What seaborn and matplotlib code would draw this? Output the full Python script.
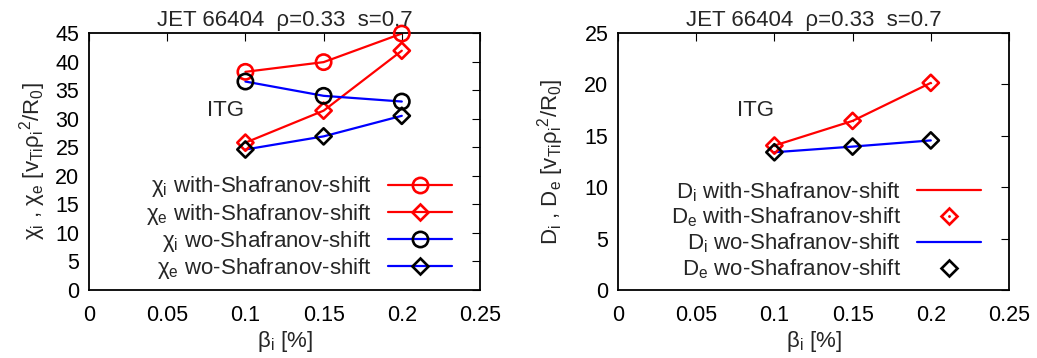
import numpy as np
import pandas as pd
import matplotlib
matplotlib.use("Agg")
import matplotlib.pyplot as plt
import seaborn as sns
from matplotlib.lines import Line2D

sns.set_theme(style="white")
plt.rcParams['font.family'] = ['Liberation Sans', 'DejaVu Sans']
plt.rcParams['mathtext.fontset'] = 'custom'
plt.rcParams['mathtext.rm'] = 'Liberation Sans'
plt.rcParams['mathtext.it'] = 'Liberation Sans:italic'
plt.rcParams['mathtext.bf'] = 'Liberation Sans:bold'

beta = [0.10, 0.15, 0.20]
chi_i_with = [38.2, 39.9, 44.9]
chi_e_with = [25.8, 31.4, 41.9]
chi_i_wo = [36.5, 34.0, 33.0]
chi_e_wo = [24.6, 26.9, 30.5]

D_i_with = [14.05, 16.45, 20.15]
D_e_with = [14.05, 16.45, 20.15]
D_i_wo = [13.4, 13.95, 14.55]
D_e_wo = [13.4, 13.95, 14.55]

xticks = [0, 0.05, 0.1, 0.15, 0.2, 0.25]
title = "JET 66404  ρ=0.33  s=0.7"

FS = 16
TFS = 15.5
W, H = 1037, 358
fig = plt.figure(figsize=(W / 100, H / 100), dpi=100)
axL = fig.add_axes([89 / W, (H - 290) / H, 391 / W, 257 / H])
axR = fig.add_axes([618 / W, (H - 290) / H, 391 / W, 257 / H])

def style(ax, ymax, ystep):
    ax.set_xlim(0, 0.25)
    ax.set_ylim(0, ymax)
    ax.set_xticks(xticks)
    ax.set_xticklabels([f"{t:g}" for t in xticks])
    ax.set_yticks(np.arange(0, ymax + 0.1, ystep))
    ax.tick_params(direction='in', length=6, width=0.8, top=True, right=True,
                   labelsize=TFS, colors='black', pad=7)
    ax.tick_params(axis='x', pad=11)
    for s in ax.spines.values():
        s.set_color('black')
        s.set_linewidth(1.3)
    ax.set_title(title, fontsize=FS, pad=5)
    ax.set_xlabel("β$_\\mathrm{i}$ [%]", fontsize=FS, labelpad=2)

lw = 1.6
ms = 11
mew = 1.9

def legend(ax, handles, labels):
    ax.legend(handles=handles, labels=labels, loc='lower right', frameon=False, fontsize=FS,
              markerfirst=False, handlelength=2.9, handletextpad=0.7, labelspacing=0.1,
              borderaxespad=0, borderpad=0,
              bbox_to_anchor=((452 - 89) / 391, 0.035))

# Left panel
series_L = [
    (chi_i_with, 'red', 'red', 'o', "χ$_\\mathrm{i}$ with-Shafranov-shift"),
    (chi_e_with, 'red', 'red', 'D', "χ$_\\mathrm{e}$ with-Shafranov-shift"),
    (chi_i_wo, 'blue', 'black', 'o', "χ$_\\mathrm{i}$ wo-Shafranov-shift"),
    (chi_e_wo, 'blue', 'black', 'D', "χ$_\\mathrm{e}$ wo-Shafranov-shift"),
]
handles = []
labels = []
for vals, lc, mc, mk, lab in series_L:
    df = pd.DataFrame({'beta': beta, 'v': vals})
    msz = ms if mk == 'o' else ms * 0.75
    sns.lineplot(data=df, x='beta', y='v', ax=axL, color=lc, linewidth=lw, legend=False)
    sns.scatterplot(data=df, x='beta', y='v', ax=axL, marker=mk, s=(msz) ** 2,
                    facecolor='none', edgecolor=mc, linewidth=mew, legend=False, zorder=3,
                    clip_on=False)
    handles.append(Line2D([0], [0], color=lc, lw=lw, marker=mk, markersize=msz,
                          markerfacecolor='none', markeredgecolor=mc, markeredgewidth=mew))
    labels.append(lab)
style(axL, 45, 5)
axL.set_ylabel("χ$_\\mathrm{i}$ , χ$_\\mathrm{e}$ [v$_\\mathrm{Ti}$ρ$_\\mathrm{i}$$^\\mathrm{2}$/R$_\\mathrm{0}$]",
               fontsize=FS)
axL.yaxis.set_label_coords(-0.104, 0.5)
axL.text(0.0874, 31.5, "ITG", fontsize=FS, ha='center', va='center')
legend(axL, handles, labels)

# Right panel
handlesR = []
df = pd.DataFrame({'beta': beta, 'v': D_i_with})
sns.lineplot(data=df, x='beta', y='v', ax=axR, color='red', linewidth=lw, legend=False)
handlesR.append(Line2D([0], [0], color='red', lw=lw))
df = pd.DataFrame({'beta': beta, 'v': D_e_with})
sns.scatterplot(data=df, x='beta', y='v', ax=axR, marker='D', s=(ms * 0.75) ** 2,
                facecolor='none', edgecolor='red', linewidth=mew, legend=False, zorder=3)
sns.scatterplot(data=df, x='beta', y='v', ax=axR, marker='.', s=4,
                color='red', linewidth=0, legend=False, zorder=3)
handlesR.append((Line2D([0], [0], lw=0, marker='D', markersize=ms * 0.75, markerfacecolor='none',
                        markeredgecolor='red', markeredgewidth=mew),
                 Line2D([0], [0], lw=0, marker='.', markersize=2, color='red')))
df = pd.DataFrame({'beta': beta, 'v': D_i_wo})
sns.lineplot(data=df, x='beta', y='v', ax=axR, color='blue', linewidth=lw, legend=False)
handlesR.append(Line2D([0], [0], color='blue', lw=lw))
df = pd.DataFrame({'beta': beta, 'v': D_e_wo})
sns.scatterplot(data=df, x='beta', y='v', ax=axR, marker='D', s=(ms * 0.75) ** 2,
                facecolor='none', edgecolor='black', linewidth=mew, legend=False, zorder=3)
handlesR.append(Line2D([0], [0], lw=0, marker='D', markersize=ms * 0.75, markerfacecolor='none',
                       markeredgecolor='black', markeredgewidth=mew))
labelsR = ["D$_\\mathrm{i}$ with-Shafranov-shift", "D$_\\mathrm{e}$ with-Shafranov-shift",
           "D$_\\mathrm{i}$ wo-Shafranov-shift", "D$_\\mathrm{e}$ wo-Shafranov-shift"]
style(axR, 25, 5)
axR.set_ylabel("D$_\\mathrm{i}$ , D$_\\mathrm{e}$ [v$_\\mathrm{Ti}$ρ$_\\mathrm{i}$$^\\mathrm{2}$/R$_\\mathrm{0}$]",
               fontsize=FS)
axR.yaxis.set_label_coords(-0.133, 0.5)
axR.text(0.0876, 17.5, "ITG", fontsize=FS, ha='center', va='center')
legend(axR, handlesR, labelsR)

fig.savefig("out.png", dpi=100, facecolor='white')
